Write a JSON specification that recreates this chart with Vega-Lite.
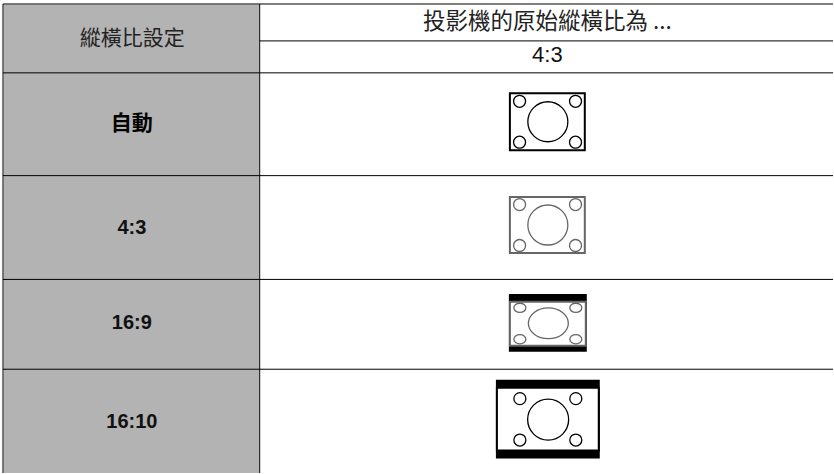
{"$schema":"https://vega.github.io/schema/vega-lite/v6.json","autosize":{"type":"fit","contains":"padding"},"width":834,"height":474,"padding":0,"background":"white","view":{"stroke":null},
"datasets":{
"cells":[{"x":3.5,"x2":259.5,"y":4.5,"y2":474}],
"hlines":[{"x":3,"x2":834,"y":4},{"x":260,"x2":834,"y":41},{"x":3,"x2":834,"y":73},{"x":3,"x2":834,"y":176},{"x":3,"x2":834,"y":280},{"x":3,"x2":834,"y":370}],
"vlines":[{"x":3,"y":4,"y2":474},{"x":260,"y":4,"y2":474}],
"bars":[{"x":509.5,"x2":587.5,"y":294.5,"y2":352.5},{"x":496.5,"x2":600.5,"y":380.5,"y2":459.5}],
"frames":[{"x":510.5,"x2":585.5,"y":93.5,"y2":150.5,"tone":"dark"},{"x":510.5,"x2":585.5,"y":197.5,"y2":253.5,"tone":"gray"},{"x":510.5,"x2":586.5,"y":302.5,"y2":346.5,"tone":"gray"},{"x":497.5,"x2":599.5,"y":388.5,"y2":451.5,"tone":"dark"}],
"rings":[
{"x":548.5,"y":122,"d":40,"tone":"dark","form":"round"},{"x":520.2,"y":101.5,"d":12,"tone":"dark","form":"round"},{"x":576.2,"y":101.5,"d":12,"tone":"dark","form":"round"},{"x":520.2,"y":142.5,"d":12,"tone":"dark","form":"round"},{"x":576.2,"y":142.5,"d":12,"tone":"dark","form":"round"},
{"x":548.5,"y":225.5,"d":40,"tone":"gray","form":"round"},{"x":520.2,"y":205,"d":12,"tone":"gray","form":"round"},{"x":576.2,"y":205,"d":12,"tone":"gray","form":"round"},{"x":520.2,"y":246,"d":12,"tone":"gray","form":"round"},{"x":576.2,"y":246,"d":12,"tone":"gray","form":"round"},
{"x":549,"y":324,"d":40,"tone":"gray","form":"flat"},{"x":520.5,"y":308.5,"d":12,"tone":"gray","form":"flat"},{"x":576.5,"y":308.5,"d":12,"tone":"gray","form":"flat"},{"x":520.5,"y":340,"d":12,"tone":"gray","form":"flat"},{"x":576.5,"y":340,"d":12,"tone":"gray","form":"flat"},
{"x":548.8,"y":420.5,"d":41,"tone":"dark","form":"round"},{"x":520.5,"y":399.5,"d":12,"tone":"dark","form":"round"},{"x":576.5,"y":399.5,"d":12,"tone":"dark","form":"round"},{"x":520.5,"y":441,"d":12,"tone":"dark","form":"round"},{"x":576.5,"y":441,"d":12,"tone":"dark","form":"round"}],
"cjk":[{"x":132.5,"y":39,"t":"縱橫比設定"}],
"cjkbold":[{"x":132,"y":124.5,"t":"自動"}],
"heads":[{"x":548,"y":22,"t":"投影機的原始縱橫比為 ..."}],
"ratio":[{"x":548,"y":55,"t":"4:3"}],
"rows":[{"x":132,"y":228,"t":"4:3"},{"x":132,"y":324,"t":"16:9"},{"x":132,"y":423,"t":"16:10"}]
},
"encoding":{
"x":{"field":"x","type":"quantitative","axis":null,"scale":{"domain":[0,834],"nice":false,"zero":false}},
"y":{"field":"y","type":"quantitative","axis":null,"scale":{"domain":[0,474],"nice":false,"zero":false,"reverse":true}}
},
"layer":[
{"data":{"name":"cells"},"mark":{"type":"rect","fill":"#b3b3b3"},"encoding":{"x2":{"field":"x2"},"y2":{"field":"y2"}}},
{"data":{"name":"hlines"},"mark":{"type":"rule","color":"#000000","strokeWidth":1},"encoding":{"x2":{"field":"x2"}}},
{"data":{"name":"vlines"},"mark":{"type":"rule","color":"#000000","strokeWidth":1},"encoding":{"y2":{"field":"y2"}}},
{"data":{"name":"bars"},"mark":{"type":"rect","fill":"#000000"},"encoding":{"x2":{"field":"x2"},"y2":{"field":"y2"}}},
{"data":{"name":"frames"},"mark":{"type":"rect","fill":"#ffffff","strokeWidth":2},"encoding":{"x2":{"field":"x2"},"y2":{"field":"y2"},"stroke":{"field":"tone","type":"nominal","legend":null,"scale":{"domain":["dark","gray"],"range":["#000000","#666666"]}}}},
{"data":{"name":"rings"},"mark":{"type":"point","filled":false,"strokeWidth":1.3,"opacity":1},"encoding":{
"stroke":{"field":"tone","type":"nominal","legend":null,"scale":{"domain":["dark","gray"],"range":["#000000","#666666"]}},
"size":{"field":"d","type":"quantitative","legend":null,"scale":{"type":"pow","exponent":2,"domain":[0,40],"range":[0,1600]}},
"shape":{"field":"form","type":"nominal","legend":null,"scale":{"domain":["round","flat"],"range":["circle","M-1,0A1,0.77,0,1,1,1,0A1,0.77,0,1,1,-1,0Z"]}}}},
{"data":{"name":"cjk"},"mark":{"type":"text","font":"Noto Sans CJK TC","fontSize":21,"fill":"#222222","baseline":"middle","align":"center"},"encoding":{"text":{"field":"t"}}},
{"data":{"name":"cjkbold"},"mark":{"type":"text","font":"Noto Sans CJK TC","fontSize":21,"fontWeight":"bold","fill":"#000000","baseline":"middle","align":"center"},"encoding":{"text":{"field":"t"}}},
{"data":{"name":"heads"},"mark":{"type":"text","font":"Noto Sans CJK TC","fontSize":22.5,"fill":"#222222","baseline":"middle","align":"center"},"encoding":{"text":{"field":"t"}}},
{"data":{"name":"ratio"},"mark":{"type":"text","font":"Liberation Sans","fontSize":22,"fill":"#111111","baseline":"middle","align":"center"},"encoding":{"text":{"field":"t"}}},
{"data":{"name":"rows"},"mark":{"type":"text","font":"Liberation Sans","fontSize":20,"fontWeight":"bold","fill":"#111111","baseline":"middle","align":"center"},"encoding":{"text":{"field":"t"}}}
]}
